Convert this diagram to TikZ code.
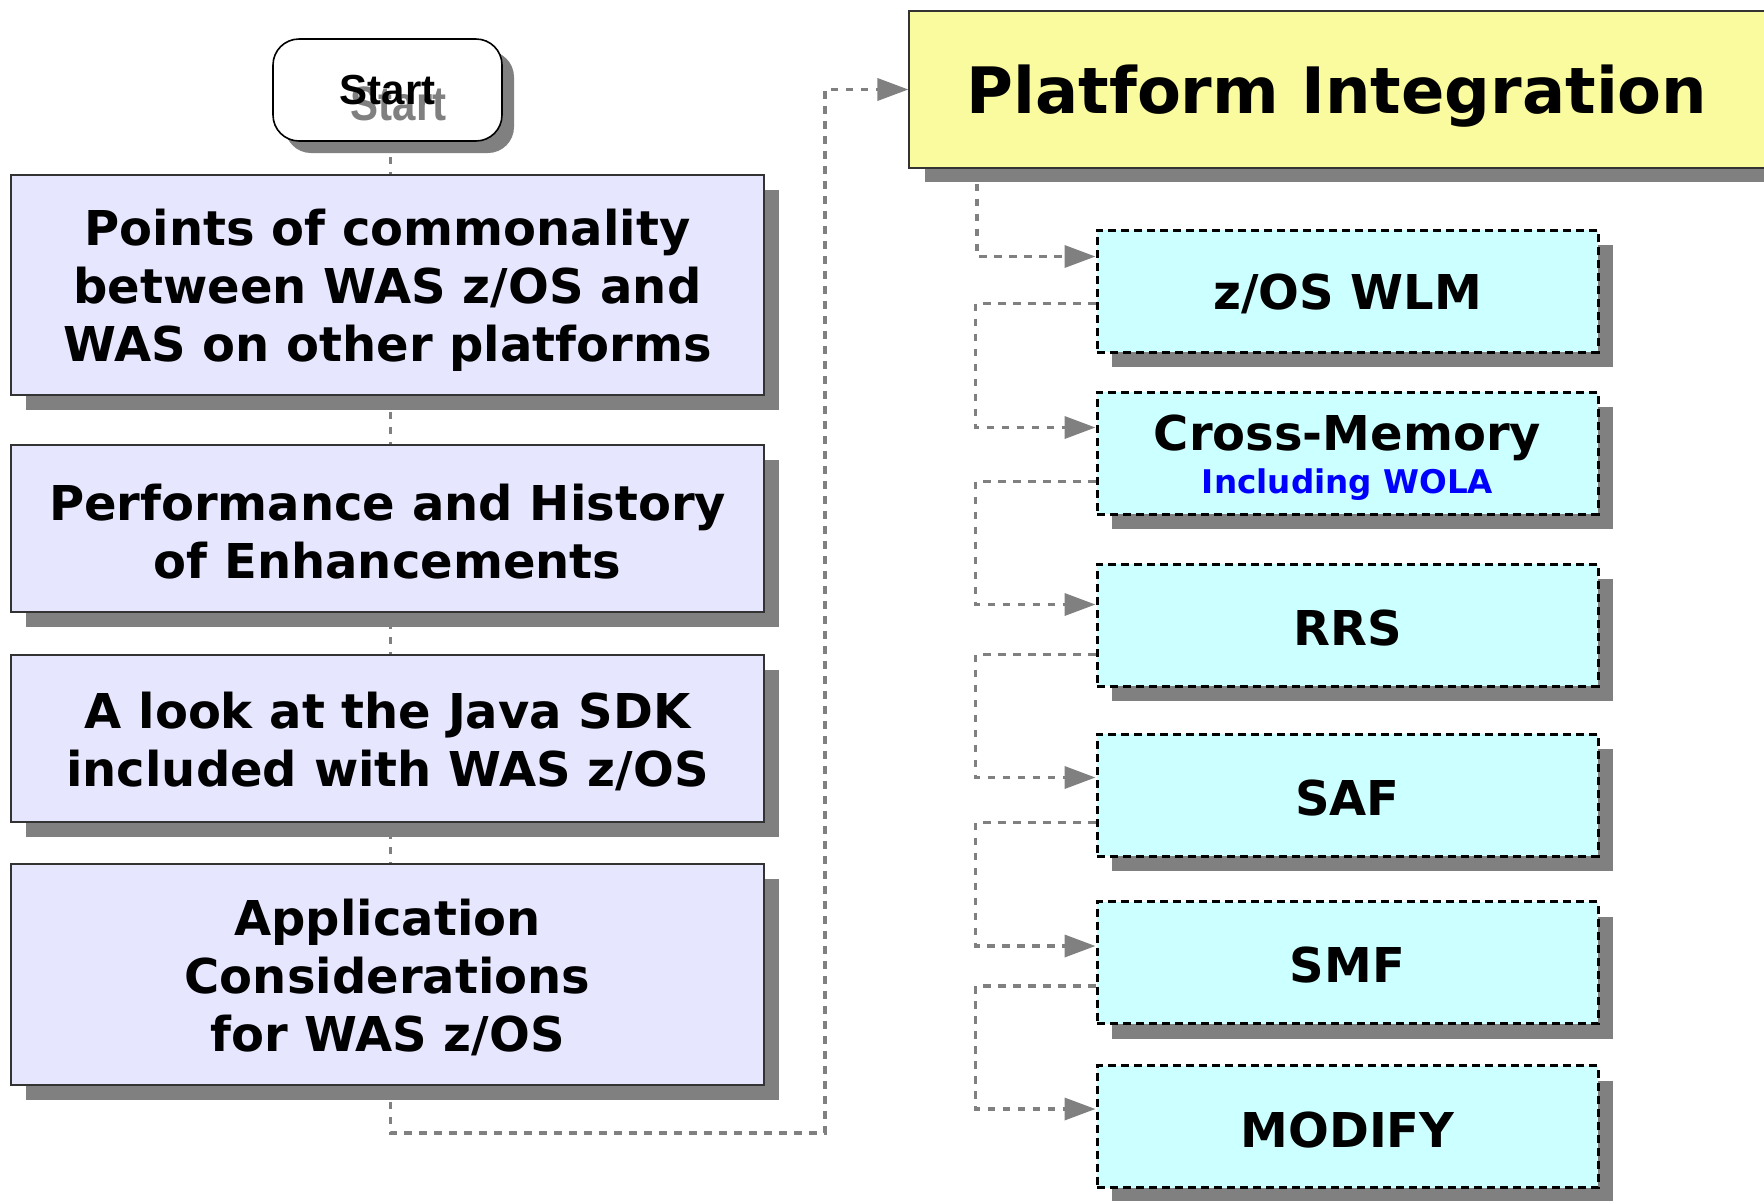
\documentclass[tikz,border=0pt]{standalone}
\usepackage{fontspec}
\usepackage{graphicx}
\setmainfont{DejaVu Sans}
\newfontfamily\startfont{Liberation Sans}
\usetikzlibrary{arrows.meta,shadows,calc}
\definecolor{lav}{HTML}{E6E6FF}
\definecolor{cyanbox}{HTML}{CCFFFF}
\definecolor{yel}{HTML}{FAFA9E}
\definecolor{shade}{HTML}{808080}
\definecolor{conncol}{HTML}{808080}
\definecolor{edge}{HTML}{333333}
\definecolor{wolablue}{HTML}{0000FF}
\pgfdeclarelayer{bg}
\pgfsetlayers{bg,main}
\newcommand\topstrut[1]{\rule{0pt}{#1}}
\begin{document}
\begin{tikzpicture}[x=0.5pt,y=-0.5pt,
  leftbox/.style={draw=edge, line width=0.6pt, fill=lav, minimum width=376.5pt,
    align=center, inner sep=0pt, font=\fontsize{24}{29}\selectfont\bfseries,
    general shadow={fill=shade, shadow xshift=7.5pt, shadow yshift=-7.5pt}},
  cyanbox/.style={draw=black, line width=1.5pt, dash pattern=on 4pt off 2.5pt,
    fill=cyanbox, minimum width=250.5pt, minimum height=61pt, align=center,
    inner sep=0pt, font=\fontsize{24}{29}\selectfont\bfseries,
    general shadow={fill=shade, shadow xshift=7.5pt, shadow yshift=-7.5pt}},
  conn/.style={draw=conncol, line width=1.8pt, dash pattern=on 3.75pt off 3.75pt},
  arr/.style={-{Triangle[length=15.5pt,width=11pt]}}
]
\useasboundingbox (0,0) rectangle (1764,1200);
\clip (0,0) rectangle (1764,1200);

% left column
\node[draw=black, line width=0.8pt, fill=white, rounded corners=13pt,
  minimum width=114.5pt, minimum height=51pt, inner sep=0pt,
  general shadow={fill=shade, shadow xshift=6pt, shadow yshift=-6pt},
  font=\startfont\bfseries\fontsize{21}{21}\selectfont]
  (start) at (387.5,90)
  {\makebox[0pt][l]{\hspace{5.5pt}\raisebox{-8pt}[0pt][0pt]{\color{shade}\scalebox{1}[1.15]{Start}}}Start};

\node[leftbox, minimum height=110pt] (b1) at (387.5,285)
  {\topstrut{23.2pt}Points of commonality\\between WAS z/OS and\\WAS on other platforms};
\node[leftbox, minimum height=83.5pt] (b2) at (387.5,528.5)
  {\topstrut{21.5pt}Performance and History\\of Enhancements};
\node[leftbox, minimum height=83.5pt] (b3) at (387.5,738.5)
  {\topstrut{21.7pt}A look at the Java SDK\\included with WAS z/OS};
\node[leftbox, minimum height=110.5pt] (b4) at (387.5,974.5)
  {\topstrut{21.7pt}Application\\Considerations\\for WAS z/OS};

% platform integration
\node[draw=edge, line width=0.6pt, fill=yel, minimum width=428pt,
  minimum height=78.5pt, inner sep=0pt,
  font=\fontsize{32}{38}\selectfont\bfseries,
  general shadow={fill=shade, shadow xshift=8pt, shadow yshift=-7pt}]
  (plat) at (1337,89.5) {\topstrut{31.3pt}Platform Integration};

% cyan boxes
\node[cyanbox] (wlm) at (1347.5,291) {\topstrut{20.5pt}z/OS WLM};
\node[cyanbox] (cm) at (1347.5,453)
  {\topstrut{22.7pt}Cross-Memory\\[-7.5pt]{\fontsize{16.3}{19}\selectfont\color{wolablue}Including WOLA}};
\node[cyanbox] (rrs) at (1347.5,625) {\topstrut{20.5pt}RRS};
\node[cyanbox] (saf) at (1347.5,795) {\topstrut{20.5pt}SAF};
\node[cyanbox] (smf) at (1347.5,962.5) {\topstrut{20.5pt}SMF};
\node[cyanbox] (mod) at (1347.5,1126.5) {\topstrut{21pt}MODIFY};

\coordinate (turnA) at (825,1133);
\coordinate (spine) at (977,0);

\begin{pgfonlayer}{bg}
\draw[conn,arr] ($(start.south)+(3,0)$) |- (turnA) |- (plat.west);
\draw[conn,arr] (plat.south -| spine) |- ($(wlm.north west)+(0,28)$);
\draw[conn,arr] ($(wlm.north west)+(0,75)$) -- ($(wlm.north west)+(-120,75)$) |- ($(cm.north west)+(0,37)$);
\draw[conn,arr] ($(cm.north west)+(0,91)$) -- ($(cm.north west)+(-120,91)$) |- ($(rrs.north west)+(0,42)$);
\draw[conn,arr] ($(rrs.north west)+(0,92)$) -- ($(rrs.north west)+(-120,92)$) |- ($(saf.north west)+(0,45)$);
\draw[conn,arr] ($(saf.north west)+(0,90)$) -- ($(saf.north west)+(-120,90)$) |- ($(smf.north west)+(0,46)$);
\draw[conn,arr] ($(smf.north west)+(0,86)$) -- ($(smf.north west)+(-120,86)$) |- ($(mod.north west)+(0,45)$);
\end{pgfonlayer}
\end{tikzpicture}
\end{document}
